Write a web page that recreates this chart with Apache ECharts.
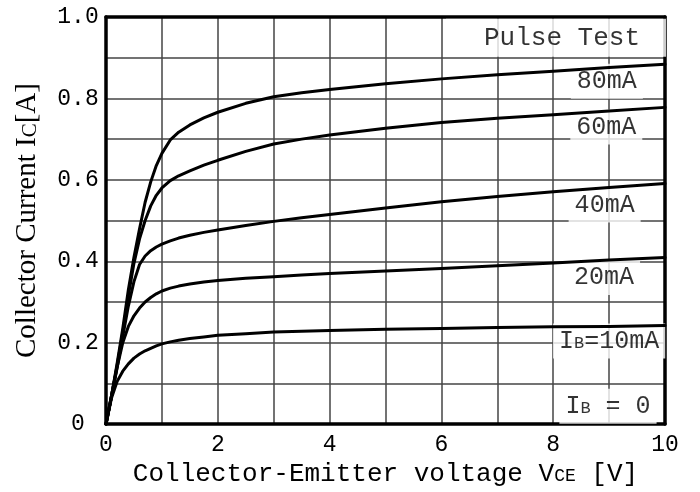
<!DOCTYPE html>
<html><head><meta charset="utf-8">
<script src="https://cdn.jsdelivr.net/npm/echarts@6/dist/echarts.min.js"></script>
<style>html,body{margin:0;padding:0;background:#fff}#c{width:700px;height:492px}</style>
</head><body><div id="c"></div>
<script>
// Collector-emitter voltage samples [V]
const vce   = [0, 0.1, 0.2, 0.3, 0.4, 0.5, 0.6, 0.7, 0.8, 0.9, 1.0, 1.15, 1.3, 1.5, 1.75, 2, 2.5, 3, 3.5, 4, 5, 6, 7, 8, 9, 10];
// Collector current [A] for each base current
const ic10mA = [0, 0.065, 0.105, 0.13, 0.148, 0.162, 0.172, 0.18, 0.186, 0.192, 0.197, 0.202, 0.206, 0.21, 0.214, 0.218, 0.222, 0.226, 0.228, 0.23, 0.233, 0.235, 0.237, 0.239, 0.24, 0.242];
const ic20mA = [0, 0.07, 0.14, 0.2, 0.24, 0.266, 0.285, 0.3, 0.311, 0.32, 0.327, 0.334, 0.339, 0.344, 0.349, 0.353, 0.358, 0.362, 0.366, 0.37, 0.376, 0.382, 0.389, 0.396, 0.403, 0.409];
const ic40mA = [0, 0.07, 0.14, 0.215, 0.29, 0.35, 0.392, 0.413, 0.426, 0.435, 0.442, 0.45, 0.457, 0.464, 0.471, 0.477, 0.488, 0.498, 0.507, 0.515, 0.531, 0.546, 0.559, 0.571, 0.581, 0.591];
const ic60mA = [0, 0.07, 0.145, 0.225, 0.315, 0.395, 0.455, 0.5, 0.536, 0.562, 0.58, 0.598, 0.61, 0.622, 0.636, 0.648, 0.67, 0.688, 0.7, 0.71, 0.727, 0.741, 0.751, 0.76, 0.769, 0.778];
const ic80mA = [0, 0.07, 0.15, 0.235, 0.33, 0.41, 0.48, 0.545, 0.595, 0.635, 0.665, 0.698, 0.717, 0.735, 0.752, 0.766, 0.788, 0.804, 0.814, 0.822, 0.836, 0.848, 0.858, 0.867, 0.876, 0.884];
const curveNames = ['IB=10mA', '20mA', '40mA', '60mA', '80mA'];
const xTickLabels = ['0', '', '2', '', '4', '', '6', '', '8', '', '10'];
const yTickLabels = ['0', '', '0.2', '', '0.4', '', '0.6', '', '0.8', '', '1.0'];

const curves = [ic10mA, ic20mA, ic40mA, ic60mA, ic80mA];
const MONO = 'Liberation Mono';

const lineSeries = curves.map((ic, k) => ({
  name: curveNames[k],
  type: 'line',
  z: 5,
  data: vce.map((v, j) => [v, ic[j]]),
  showSymbol: false,
  symbol: 'none',
  smooth: false,
  lineStyle: { color: '#000', width: 3, join: 'round', cap: 'round' },
  silent: true
}));

const lblRich = {
  n: { fontFamily: MONO, fontSize: 25, color: '#000', verticalAlign: 'bottom' },
  s: { fontFamily: MONO, fontSize: 17, color: '#000', verticalAlign: 'bottom', padding: [0, 0, 2, 0] }
};
const annot = [
  { value: [8.96, 0.842], text: '{n|80mA}' },
  { value: [8.95, 0.730], text: '{n|60mA}' },
  { value: [8.92, 0.538], text: '{n|40mA}' },
  { value: [8.91, 0.360], text: '{n|20mA}' },
  { value: [9.00, 0.204], text: '{n|I}{s|B}{n|=10mA}' },
  { value: [8.98, 0.044], text: '{n|I}{s|B}{n| = 0}' }
];

const labelSeries = {
  type: 'scatter',
  z: 2,
  symbolSize: 0,
  silent: true,
  data: annot.map(a => ({
    value: a.value,
    label: {
      show: true, position: 'inside', formatter: a.text,
      backgroundColor: '#fff', padding: [5, 6, 5, 6], rich: lblRich
    }
  })).concat([{
    value: [8.05, 0.949],
    label: {
      show: true, position: 'inside', formatter: 'Pulse Test',
      fontFamily: MONO, fontSize: 26, color: '#000',
      backgroundColor: '#fff', padding: [6, 26, 6, 38]
    }
  }])
};

const chart = echarts.init(document.getElementById('c'), null, { renderer: 'canvas' });
chart.setOption({
  animation: false,
  backgroundColor: '#fff',
  grid: { left: 106, top: 17, width: 559, height: 411, show: false },
  xAxis: [{
    type: 'value', min: 0, max: 10, interval: 1,
    axisLine: { show: true, onZero: false, lineStyle: { color: '#000', width: 3.5 } },
    axisTick: { show: false },
    splitLine: { show: true, showMinLine: false, showMaxLine: false, lineStyle: { color: '#444', width: 1.5 } },
    axisLabel: {
      margin: 9, fontFamily: MONO, fontSize: 23, color: '#000',
      formatter: v => xTickLabels[Math.round(v)] || ''
    },
    name: '{n|Collector-Emitter voltage V}{s|CE}{n| [V]}',
    nameLocation: 'middle', nameGap: 30,
    nameTextStyle: {
      rich: {
        n: { fontFamily: MONO, fontSize: 26, color: '#000', verticalAlign: 'bottom' },
        s: { fontFamily: MONO, fontSize: 18, color: '#000', verticalAlign: 'bottom', padding: [0, 0, 2, 0] }
      }
    }
  }, {
    type: 'value', min: 0, max: 10, position: 'top',
    axisLine: { show: true, onZero: false, lineStyle: { color: '#000', width: 3.5 } },
    axisTick: { show: false }, axisLabel: { show: false }, splitLine: { show: false }
  }],
  yAxis: [{
    type: 'value', min: 0, max: 1, interval: 0.1,
    axisLine: { show: true, onZero: false, lineStyle: { color: '#000', width: 3.5 } },
    axisTick: { show: false },
    splitLine: { show: true, showMinLine: false, showMaxLine: false, lineStyle: { color: '#444', width: 1.5 } },
    axisLabel: {
      margin: 28, align: 'center', fontFamily: MONO, fontSize: 23, color: '#000',
      formatter: v => yTickLabels[Math.round(v * 10)] || ''
    },
    name: '{n|Collector Current I}{s|C}{n|[A]}',
    nameLocation: 'middle', nameGap: 64, nameRotate: 90,
    nameTextStyle: {
      rich: {
        n: { fontFamily: 'Liberation Serif', fontSize: 29, color: '#000', verticalAlign: 'bottom' },
        s: { fontFamily: 'Liberation Serif', fontSize: 21, color: '#000', verticalAlign: 'bottom', padding: [0, 0, 1, 0] }
      }
    }
  }, {
    type: 'value', min: 0, max: 1, position: 'right',
    axisLine: { show: true, onZero: false, lineStyle: { color: '#000', width: 3.5 } },
    axisTick: { show: false }, axisLabel: { show: false }, splitLine: { show: false }
  }],
  series: [labelSeries].concat(lineSeries)
});
</script>
</body></html>
